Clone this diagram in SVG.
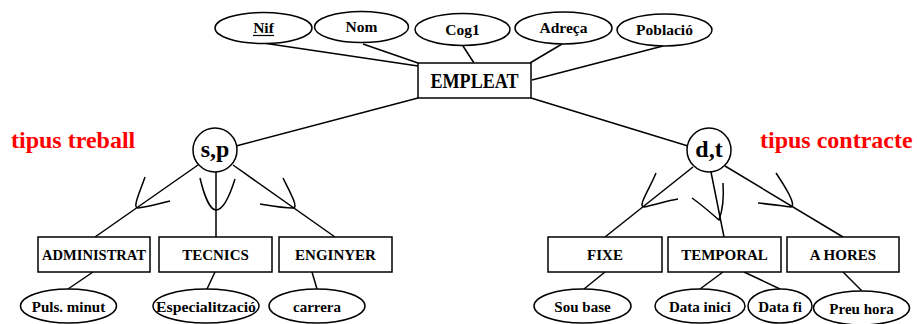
<svg xmlns="http://www.w3.org/2000/svg" width="917" height="324" viewBox="0 0 917 324">
  <style>
    text { font-family: "Liberation Serif", "Times New Roman", serif; font-weight: bold; fill: #000; text-anchor: middle; }
    .ent rect, .attr ellipse, .isa circle { fill: #fff; stroke: #000; stroke-width: 1.5; }
    .lbl { font-size: 15px; }
    .top { font-size: 15.5px; }
    .big { font-size: 20px; }
    .isa text { font-size: 24px; }
    .note { font-size: 24px; fill: #ff0000; text-anchor: start; }
    #connectors line, #connectors path { stroke: #000; stroke-width: 1.5; fill: none; }
  </style>

  <!-- connectors -->
  <g id="connectors">
    <!-- EMPLEAT attributes -->
    <line x1="263" y1="43" x2="418" y2="66"/>
    <line x1="363" y1="44" x2="418" y2="63"/>
    <line x1="463" y1="46" x2="474" y2="63"/>
    <line x1="562" y1="44" x2="530" y2="63"/>
    <line x1="663" y1="46" x2="532" y2="80"/>
    <!-- EMPLEAT to the specialisation circles -->
    <line x1="418" y1="98" x2="236" y2="146"/>
    <line x1="531" y1="98" x2="688" y2="146"/>
    <!-- s,p branches -->
    <line x1="198" y1="165" x2="95" y2="237"/>
    <line x1="216" y1="172" x2="216" y2="237"/>
    <line x1="233" y1="165" x2="335" y2="237"/>
    <!-- d,t branches -->
    <line x1="693" y1="167" x2="605" y2="237"/>
    <line x1="711" y1="172" x2="724" y2="237"/>
    <line x1="725" y1="166" x2="843" y2="237"/>
    <!-- subset symbols -->
    <path d="M145,177 C140,192 132,208 138,208 C148,207 158,204 170,201"/>
    <path d="M200,178 C204,195 210,210 216,210 C223,210 230,195 235,179"/>
    <path d="M283,178 C290,192 299,208 293,208 C283,208 272,206 260,204"/>
    <path d="M656,173 C650,188 637,207 644,207 C655,205 666,201 678,199"/>
    <path d="M692,198 C702,205 712,214 719,220 C722,212 724,198 723,183"/>
    <path d="M776,173 C784,185 797,205 791,207 C782,206 770,204 758,203"/>
    <!-- subclass attributes -->
    <line x1="93" y1="272" x2="68" y2="289"/>
    <line x1="215" y1="272" x2="207" y2="289"/>
    <line x1="312" y1="272" x2="317" y2="289"/>
    <line x1="605" y1="272" x2="584" y2="289"/>
    <line x1="723" y1="272" x2="700" y2="289"/>
    <line x1="744" y1="272" x2="780" y2="289"/>
    <line x1="843" y1="272" x2="862" y2="291"/>
  </g>

  <!-- top attributes -->
  <g id="attr-nif" class="attr">
    <ellipse cx="263.5" cy="28" rx="48.5" ry="15.5"/>
    <text class="top" x="263.5" y="33">Nif</text>
    <line x1="253" y1="35.5" x2="274" y2="35.5" stroke="#000" stroke-width="1.2"/>
  </g>
  <g id="attr-nom" class="attr">
    <ellipse cx="361.5" cy="27" rx="47" ry="15.5"/>
    <text class="top" x="361.5" y="32">Nom</text>
  </g>
  <g id="attr-cog1" class="attr">
    <ellipse cx="462.5" cy="29.5" rx="47.5" ry="16"/>
    <text class="top" x="462.5" y="35">Cog1</text>
  </g>
  <g id="attr-adreca" class="attr">
    <ellipse cx="563.5" cy="28" rx="48.5" ry="16"/>
    <text class="top" x="563.5" y="33">Adreça</text>
  </g>
  <g id="attr-poblacio" class="attr">
    <ellipse cx="664.5" cy="30" rx="47.5" ry="16"/>
    <text class="top" x="664.5" y="35">Població</text>
  </g>

  <!-- superclass -->
  <g id="empleat" class="ent">
    <rect x="418" y="63" width="113" height="35"/>
    <text class="big" x="474.5" y="88" textLength="88" lengthAdjust="spacingAndGlyphs">EMPLEAT</text>
  </g>

  <!-- specialisations -->
  <g id="isa-treball" class="isa">
    <circle cx="215" cy="150" r="22"/>
    <text x="215" y="157">s,p</text>
  </g>
  <g id="isa-contracte" class="isa">
    <circle cx="709" cy="150" r="22"/>
    <text x="709" y="157">d,t</text>
  </g>
  <text class="note" x="11" y="148">tipus treball</text>
  <text class="note" x="760" y="148">tipus contracte</text>

  <!-- subclasses -->
  <g id="administrat" class="ent">
    <rect x="38" y="237" width="112" height="35"/>
    <text class="lbl" x="94" y="260" textLength="104" lengthAdjust="spacingAndGlyphs">ADMINISTRAT</text>
  </g>
  <g id="tecnics" class="ent">
    <rect x="159" y="237" width="113" height="35"/>
    <text class="lbl" x="215.5" y="260">TECNICS</text>
  </g>
  <g id="enginyer" class="ent">
    <rect x="279" y="237" width="113" height="35"/>
    <text class="lbl" x="335.5" y="260">ENGINYER</text>
  </g>
  <g id="fixe" class="ent">
    <rect x="548" y="237" width="114" height="35"/>
    <text class="lbl" x="605" y="260">FIXE</text>
  </g>
  <g id="temporal" class="ent">
    <rect x="668" y="237" width="113" height="35"/>
    <text class="lbl" x="724.5" y="260">TEMPORAL</text>
  </g>
  <g id="a-hores" class="ent">
    <rect x="787" y="237" width="112" height="35"/>
    <text class="lbl" x="843" y="260">A HORES</text>
  </g>

  <!-- subclass attributes -->
  <g id="attr-puls" class="attr">
    <ellipse cx="68.5" cy="306" rx="48" ry="17"/>
    <text class="lbl" x="68.5" y="312">Puls. minut</text>
  </g>
  <g id="attr-especialitzacio" class="attr">
    <ellipse cx="206" cy="306" rx="53" ry="17"/>
    <text class="lbl" x="206" y="312" textLength="100" lengthAdjust="spacingAndGlyphs">Especialització</text>
  </g>
  <g id="attr-carrera" class="attr">
    <ellipse cx="317" cy="306" rx="48" ry="17"/>
    <text class="lbl" x="317" y="312">carrera</text>
  </g>
  <g id="attr-sou" class="attr">
    <ellipse cx="582.5" cy="306" rx="48.5" ry="17"/>
    <text class="lbl" x="582.5" y="312">Sou base</text>
  </g>
  <g id="attr-data-inici" class="attr">
    <ellipse cx="700" cy="306" rx="45" ry="17"/>
    <text class="lbl" x="700" y="312">Data inici</text>
  </g>
  <g id="attr-data-fi" class="attr">
    <ellipse cx="780" cy="306" rx="32" ry="17"/>
    <text class="lbl" x="780" y="312">Data fi</text>
  </g>
  <g id="attr-preu" class="attr">
    <ellipse cx="861.5" cy="308" rx="48" ry="17"/>
    <text class="lbl" x="861.5" y="314">Preu hora</text>
  </g>
</svg>
